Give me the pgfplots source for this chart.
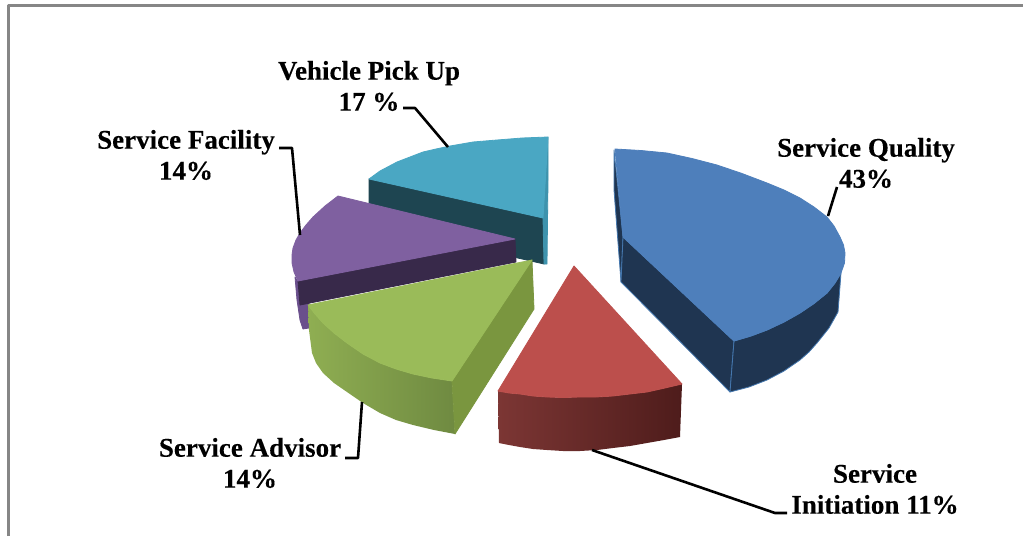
\documentclass[border=0pt]{standalone}
\usepackage{pgfplots}
\pgfplotsset{compat=1.18}
\usepackage{fontspec}
\setmainfont{Liberation Serif}[BoldFeatures={FakeBold=0.25}]
\definecolor{blueTop}{HTML}{4E7FBB}
\definecolor{blueWall}{HTML}{1F3551}
\definecolor{blueEdge}{HTML}{4477AE}
\definecolor{redTop}{HTML}{BC4F4C}
\definecolor{redL}{HTML}{7C3634}
\definecolor{redR}{HTML}{4E1C1B}
\definecolor{greenTop}{HTML}{9ABB59}
\definecolor{greenL}{HTML}{8FAE52}
\definecolor{greenR}{HTML}{6F8A41}
\definecolor{greenSide}{HTML}{7A963F}
\definecolor{purpleTop}{HTML}{7F60A0}
\definecolor{purpleWall}{HTML}{38294A}
\definecolor{purpleSide}{HTML}{6A4F8C}
\definecolor{tealTop}{HTML}{4AA7C3}
\definecolor{tealWall}{HTML}{1E4551}
\definecolor{tealSide}{HTML}{3E93AD}
\definecolor{frame}{HTML}{868686}
\newcommand{\lab}{\fontsize{27}{31}\selectfont\bfseries}
\begin{document}
\begin{tikzpicture}[x=1pt,y=1pt]
\begin{axis}[
  scale only axis, width=1023pt, height=536pt,
  xmin=0, xmax=1023, ymin=0, ymax=536, y dir=reverse,
  hide axis, clip=true,
  every axis plot/.append style={line join=round, mark=none},
  wedge/.style={draw=#1, line width=0.8pt, fill=#1},
]
% page background and outer frame, open on the right and at the bottom
\addplot[fill=white, draw=none] coordinates {(0,0) (1023,0) (1023,536) (0,536)} -- cycle;
\addplot[draw=frame, line width=3pt] coordinates {(8.5,536) (8.5,5) (1023,5)};

% Vehicle Pick Up
\addplot[wedge=tealWall] coordinates {(369,179) (543,218) (544,264) (369,224)} -- cycle;
\addplot[wedge=tealSide] coordinates {(548,137) (543,218) (544,264) (547,264) (548,180)} -- cycle;
\addplot[wedge=tealTop] coordinates {(369,179) (380,171) (397,162) (410,157) (423,152) (436,149) (450,146) (473,142) (497,140) (522,138) (548,137) (543,218)} -- cycle;

% Service Facility
\addplot[wedge=purpleSide] coordinates {(295,277) (297,300) (300,320) (303,329) (309,328) (309,300)} -- cycle;
\addplot[wedge=purpleWall] coordinates {(298,281) (515,239) (516,262) (300,305)} -- cycle;
\addplot[wedge=purpleTop] coordinates {(338,196) (515,239) (298,281) (294,272) (292,263) (292,255) (293,248) (296,240) (300,233) (306,225) (313,217) (325,206)} -- cycle;

% Service Advisor
\addplot[draw=none, left color=greenL, right color=greenR] coordinates {(308,305) (315,314) (323,323) (334,333) (347,343) (363,354) (380,363) (396,369) (413,374) (432,378) (452,381) (455,434) (434,430) (413,425) (396,420) (380,413) (363,403) (347,392) (334,383) (323,373) (316,363) (312,353) (309,330)} -- cycle;
\addplot[wedge=greenSide] coordinates {(452,381) (532,260) (534,309) (455,434)} -- cycle;
\addplot[wedge=greenTop] coordinates {(532,260) (308,305) (315,314) (323,323) (334,333) (347,343) (363,354) (380,363) (396,369) (413,374) (432,378) (452,381)} -- cycle;

% Service Initiation
\addplot[draw=none, left color=redL, right color=redR] coordinates {(498,391) (509,393) (520,394) (533,396) (547,397) (563,397.5) (580,397) (596,397) (613,396) (630,394) (647,392) (665,388) (682,384) (680,437) (664,440) (647,443) (630,446) (613,448) (597,450) (580,451) (563,451) (547,450) (533,449) (520,447) (509,445) (499,443)} -- cycle;
\addplot[wedge=redTop] coordinates {(574,266) (682,384) (665,388) (647,392) (630,394) (613,396) (596,397) (580,397) (563,397.5) (547,397) (533,396) (520,394) (509,393) (498,391)} -- cycle;

% Service Quality
\addplot[draw=blueEdge, line width=0.8pt, fill=blueWall] coordinates {(614,150) (614,190) (621,282) (623,237)} -- cycle;
\addplot[draw=blueEdge, line width=0.8pt, fill=blueWall] coordinates {(623,237) (734,341) (730,392) (621,282)} -- cycle;
\addplot[draw=blueEdge, line width=0.8pt, fill=blueWall] coordinates {(734,341) (751,336) (767,330) (784,322) (800,313) (814,303.5) (827,293) (835,283) (841,273) (838,312) (829,328) (817,343) (809,352) (800,360) (784,371) (767,380) (749,387) (730,392)} -- cycle;
\addplot[wedge=blueTop] coordinates {(615,149) (641,150.5) (667,153) (692,158.5) (717,165) (742,173.5) (767,183) (784,190) (800,198) (814,207) (827,217) (834,226) (840,237) (843.5,245) (845,253) (844.5,263) (841,273) (835,283) (827,293) (814,303.5) (800,313) (784,322) (767,330) (751,336) (734,341) (623,237)} -- cycle;

% leader lines
\addplot[black, line width=2.6pt] coordinates {(403,108) (415,108) (448,147)};
\addplot[black, line width=2.6pt] coordinates {(279,148) (292,148) (300,235)};
\addplot[black, line width=2.6pt] coordinates {(837,187) (828,216)};
\addplot[black, line width=2.6pt] coordinates {(345,458) (358,458) (362,402)};
\addplot[black, line width=2.6pt] coordinates {(592,450) (775,513) (787,513)};

% category labels
\node[align=center, font=\lab] at (axis cs:369,86) {Vehicle Pick Up\\17 \%};
\node[align=center, font=\lab] at (axis cs:186,155) {Service Facility\\14\%};
\node[align=center, font=\lab] at (axis cs:866,163) {Service Quality\\43\%};
\node[align=center, font=\lab] at (axis cs:250,463) {Service Advisor\\14\%};
\node[align=center, font=\lab] at (axis cs:875,489) {Service\\Initiation 11\%};
\end{axis}
\end{tikzpicture}
\end{document}
